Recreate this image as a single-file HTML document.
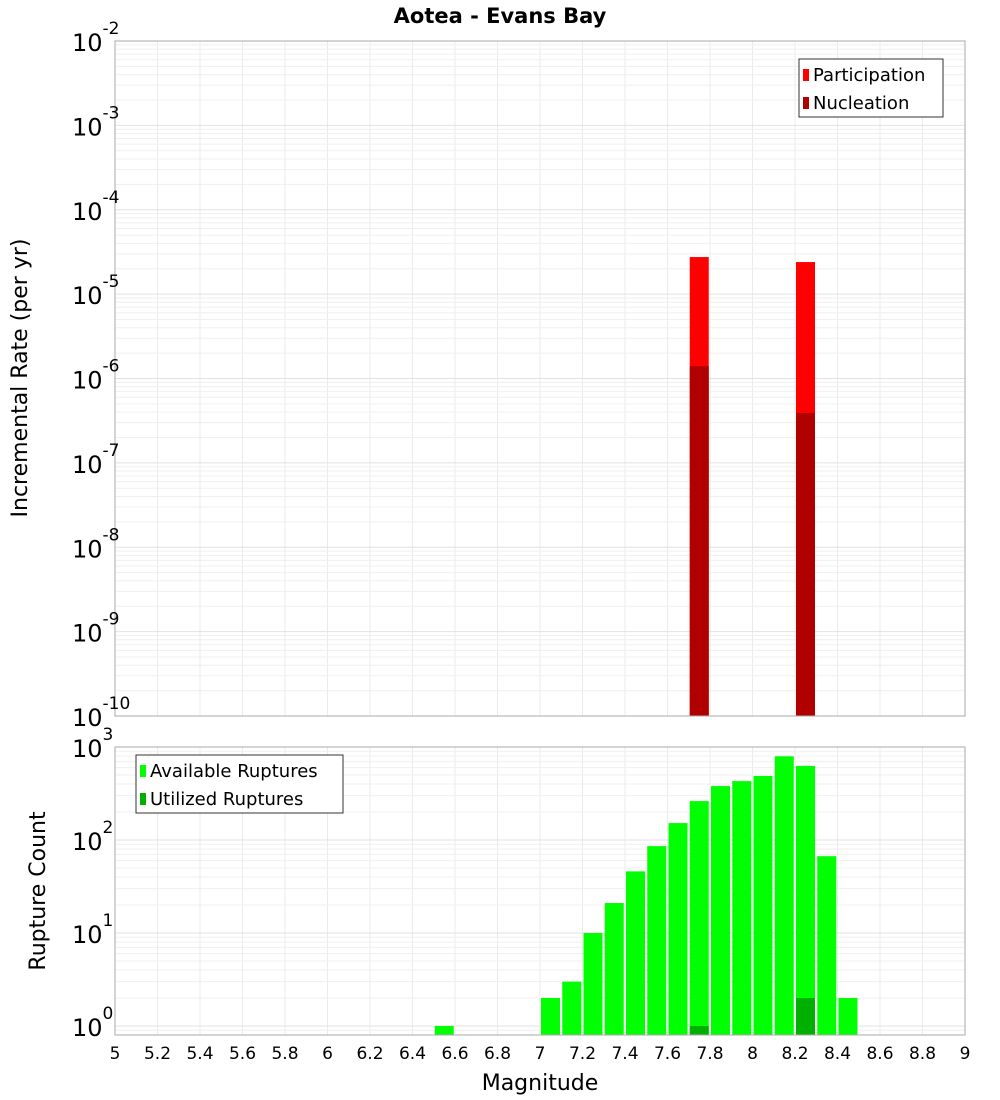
<!DOCTYPE html>
<html><head><meta charset="utf-8"><style>
body{margin:0;background:#fff;}
svg{display:block;font-family:"DejaVu Sans","Liberation Sans",sans-serif;}
</style></head><body>
<svg id="c" width="1000" height="1100">
<text x="500" y="23" text-anchor="middle" font-size="21" font-weight="bold">Aotea - Evans Bay</text>
<g id="topg"></g>
<g id="botg"></g>
<text transform="translate(27,378) rotate(-90)" text-anchor="middle" font-size="22">Incremental Rate (per yr)</text>
<text transform="translate(45,891) rotate(-90)" text-anchor="middle" font-size="22">Rupture Count</text>
<text x="540" y="1090" text-anchor="middle" font-size="22">Magnitude</text>
</svg>
<script>
const rateMags=[7.75,8.25];
const participation=[2.75e-5,2.4e-5];
const nucleation=[1.4e-6,3.9e-7];
const countMags=[6.55,7.05,7.15,7.25,7.35,7.45,7.55,7.65,7.75,7.85,7.95,8.05,8.15,8.25,8.35,8.45];
const available=[1,2,3,10,21,46,86,152,262,380,430,488,794,626,67,2];
const utilMags=[7.75,8.25];
const utilized=[1,2];
const xTicks=["5","5.2","5.4","5.6","5.8","6","6.2","6.4","6.6","6.8","7","7.2","7.4","7.6","7.8","8","8.2","8.4","8.6","8.8","9"];
const topExp=[-2,-3,-4,-5,-6,-7,-8,-9,-10];
const botExp=[0,1,2,3];

const NS="http://www.w3.org/2000/svg";
const L=115,R=965;
const X=m=>L+(m-5)*(R-L)/4;
const T0=41,T1=716;
const yT=v=>T0+(-2-Math.log10(v))*(T1-T0)/8;
const B0=747,B1=1035;
const yB=v=>1026-Math.log10(v)*93;
function el(p,tag,a){const e=document.createElementNS(NS,tag);for(const k in a)e.setAttribute(k,a[k]);p.appendChild(e);return e;}
const gTop=document.getElementById('topg'),gBot=document.getElementById('botg');

function grid(g,y0,y1,yf,eMin,eMax){
  for(let i=0;i<=40;i+=2){const x=X(5+i*0.1);const l=el(g,'line',{x1:x,x2:x,y1:y0,y2:y1,stroke:'#ebebeb'});
  
  }
  for(let e=eMin;e<eMax;e++)for(let k=1;k<10;k++){const y=yf(k*Math.pow(10,e));if(y<y0||y>y1)continue;
   const l=el(g,'line',{x1:L,x2:R,y1:y,y2:y,stroke:k==1?'#e2e2e2':'#efefef'});
   
   }
}
grid(gTop,T0,T1,yT,-10,-1);
grid(gBot,B0,B1,yB,-1,3);

participation.forEach((v,i)=>{const x=X(rateMags[i]-0.05)+1;
 const r=el(gTop,'rect',{x:x,y:yT(v),width:19,height:T1-yT(v),fill:'#ff0000'});
 
 });
nucleation.forEach((v,i)=>{const x=X(rateMags[i]-0.05)+1;
 const r=el(gTop,'rect',{x:x,y:yT(v),width:19,height:T1-yT(v),fill:'#b00000'});
 
 });
available.forEach((v,i)=>{const x=X(countMags[i]-0.05)+1;
 const r=el(gBot,'rect',{x:x,y:yB(v),width:19,height:B1-yB(v),fill:'#00ff00'});
 
 });
utilized.forEach((v,i)=>{const x=X(utilMags[i]-0.05)+1;
 const r=el(gBot,'rect',{x:x,y:yB(v),width:19,height:B1-yB(v),fill:'#00b000'});
 
 });

const f1=el(gTop,'rect',{x:L,y:T0,width:R-L,height:T1-T0,fill:'none',stroke:'#aaa'});


const f2=el(gBot,'rect',{x:L,y:B0,width:R-L,height:B1-B0,fill:'none',stroke:'#aaa'});



function ylabel(g,y,e){const t=el(g,'text',{x:72,y:y+10,'font-size':24});
 
 
 t.textContent='10';const s=el(t,'tspan',{dy:-17,'font-size':17});s.textContent=String(e);}
topExp.forEach(e=>ylabel(gTop,yT(Math.pow(10,e)),e));
botExp.forEach(e=>ylabel(gBot,yB(Math.pow(10,e)),e));

xTicks.forEach(s=>{const t=el(gBot,'text',{x:X(parseFloat(s)),y:1059,'text-anchor':'middle','font-size':17});
 
 
 t.textContent=s;});

function legend(g,x,y,w,items){const b=el(g,'rect',{x:x,y:y,width:w,height:58,fill:'#fff',stroke:'#333'});
 
 
 items.forEach((it,i)=>{const r=el(g,'rect',{x:x+4,y:y+10+i*28,width:6,height:12,fill:it[1]});
  
  
  const t=el(g,'text',{x:x+14,y:y+22+i*28,'font-size':18});
  
  
  t.textContent=it[0];});}
legend(gTop,799,59,144,[["Participation","#ff0000"],["Nucleation","#b00000"]]);
legend(gBot,136,755,207,[["Available Ruptures","#00ff00"],["Utilized Ruptures","#00b000"]]);
</script>
</body></html>
